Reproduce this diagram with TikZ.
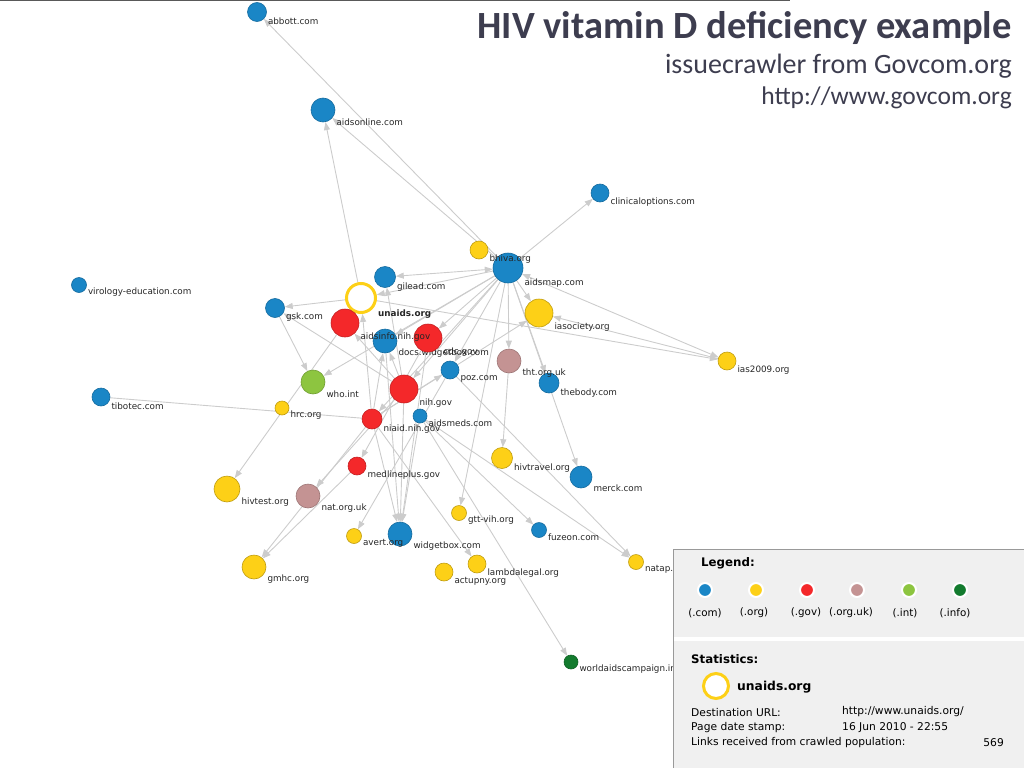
\documentclass[tikz,border=0pt]{standalone}
\usepackage{fontspec}
\setmainfont{DejaVu Sans}
\newfontfamily\slidefont{Carlito}
\usetikzlibrary{arrows.meta}
\pgfdeclarelayer{bg}
\pgfsetlayers{bg,main}

\definecolor{ccom}{HTML}{1A86C6}
\definecolor{corg}{HTML}{FDD017}
\definecolor{cgov}{HTML}{F4282A}
\definecolor{corguk}{HTML}{C49393}
\definecolor{cint}{HTML}{8DC540}
\definecolor{cinfo}{HTML}{137B2E}
\definecolor{cedge}{HTML}{CCCCCC}
\definecolor{ctitle}{HTML}{3D3D4F}
\definecolor{cbox}{HTML}{F0F0F0}

\tikzset{
  site/.style={circle, inner sep=0pt, line width=0.6pt},
  com/.style={site, fill=ccom, draw=ccom!80!black},
  org/.style={site, fill=corg, draw=corg!75!black},
  gov/.style={site, fill=cgov, draw=cgov!80!black},
  orguk/.style={site, fill=corguk, draw=corguk!80!black},
  int/.style={site, fill=cint, draw=cint!80!black},
  info/.style={site, fill=cinfo, draw=cinfo!80!black},
  ring/.style={circle, inner sep=0pt, fill=white, draw=corg, line width=3pt},
  lbl/.style={font=\fontsize{8.8}{10}\selectfont, text=black!85, inner sep=0pt, xshift=1pt},
  link/.style={draw=cedge, line width=0.9pt},
  arr/.style={link, -{Triangle[length=8pt,width=6pt]}},
  both/.style={link, {Triangle[length=8pt,width=6pt]}-{Triangle[length=8pt,width=6pt]}},
  keydot/.style={circle, inner sep=0pt, minimum size=14pt, draw=white, line width=2pt},
  keytxt/.style={font=\fontsize{10.3}{12}\selectfont, inner sep=0pt},
  boxhead/.style={font=\bfseries\fontsize{11.8}{14}\selectfont, inner sep=0pt, anchor=west},
  stattxt/.style={font=\fontsize{10.7}{13}\selectfont, inner sep=0pt, anchor=west},
}

\begin{document}
\begin{tikzpicture}[x=1pt, y=-1pt]
\useasboundingbox (0,0) rectangle (1024,768);
\draw[black!65, line width=1.5pt] (0,0.75) -- (790,0.75);

%% sites
\node[com, minimum size=19pt, label={[lbl, yshift=-9.5pt]east:abbott.com}] (abbott) at (257,12) {};
\node[com, minimum size=24pt, label={[lbl, yshift=-12pt]east:aidsonline.com}] (aidsonline) at (323,110) {};
\node[com, minimum size=18pt, label={[lbl, yshift=-9pt]east:clinicaloptions.com}] (clinical) at (600,193) {};
\node[com, minimum size=30pt, label={[lbl, yshift=-15pt]east:aidsmap.com}] (aidsmap) at (508,268) {};
\node[org, minimum size=18pt, label={[lbl, yshift=-9pt]east:bhiva.org}] (bhiva) at (479,250) {};
\node[com, minimum size=15pt, label={[lbl, yshift=-7.5pt]east:virology-education.com}] (virology) at (79,285) {};
\node[com, minimum size=21pt, label={[lbl, yshift=-10.5pt]east:gilead.com}] (gilead) at (385,277) {};
\node[ring, minimum size=29pt, label={[lbl, font=\bfseries\fontsize{8.8}{10}\selectfont, yshift=-16pt]east:unaids.org}] (unaids) at (361,298) {};
\node[com, minimum size=19pt, label={[lbl, yshift=-9.5pt]east:gsk.com}] (gsk) at (275,308) {};
\node[org, minimum size=28pt, label={[lbl, yshift=-14pt]east:iasociety.org}] (iasoc) at (539,313) {};
\node[com, minimum size=24pt, label={[lbl, yshift=-12pt]east:docs.widgetbox.com}] (docs) at (385,341) {};
\node[gov, minimum size=28pt, label={[lbl, yshift=-14pt]east:cdc.gov}] (cdc) at (428,338) {};
\node[gov, minimum size=28pt, label={[lbl, yshift=-14pt]east:aidsinfo.nih.gov}] (aidsinfo) at (345,323) {};
\node[com, minimum size=20pt, label={[lbl, yshift=-10pt]east:thebody.com}] (thebody) at (549,383) {};
\node[orguk, minimum size=24pt, label={[lbl, yshift=-12pt]east:tht.org.uk}] (tht) at (509,361) {};
\node[com, minimum size=18pt, label={[lbl, yshift=-9pt]east:poz.com}] (poz) at (450,370) {};
\node[org, minimum size=18pt, label={[lbl, yshift=-9pt]east:ias2009.org}] (ias09) at (727,361) {};
\node[int, minimum size=24pt, label={[lbl, yshift=-12pt]east:who.int}] (who) at (313,382) {};
\node[gov, minimum size=28pt, label={[lbl, yshift=-14pt]east:nih.gov}] (nih) at (404,389) {};
\node[com, minimum size=18pt, label={[lbl, yshift=-9pt]east:tibotec.com}] (tibotec) at (101,397) {};
\node[org, minimum size=14pt, label={[lbl, yshift=-7pt]east:hrc.org}] (hrc) at (282,408) {};
\node[com, minimum size=14pt, label={[lbl, yshift=-7pt]east:aidsmeds.com}] (aidsmeds) at (420,416) {};
\node[gov, minimum size=20pt, label={[lbl, yshift=-10pt]east:niaid.nih.gov}] (niaid) at (372,419) {};
\node[org, minimum size=21pt, label={[lbl, yshift=-10.5pt]east:hivtravel.org}] (hivtravel) at (502,458) {};
\node[com, minimum size=22pt, label={[lbl, yshift=-11pt]east:merck.com}] (merck) at (581,477) {};
\node[gov, minimum size=18pt, label={[lbl, yshift=-9pt]east:medlineplus.gov}] (medline) at (357,466) {};
\node[org, minimum size=26pt, label={[lbl, yshift=-13pt]east:hivtest.org}] (hivtest) at (227,489) {};
\node[orguk, minimum size=24pt, label={[lbl, yshift=-12pt]east:nat.org.uk}] (natuk) at (308,496) {};
\node[org, minimum size=15pt, label={[lbl, yshift=-7.5pt]east:gtt-vih.org}] (gtt) at (459,513) {};
\node[com, minimum size=15pt, label={[lbl, yshift=-7.5pt]east:fuzeon.com}] (fuzeon) at (539,530) {};
\node[com, minimum size=24pt, label={[lbl, yshift=-12pt]east:widgetbox.com}] (widget) at (400,534) {};
\node[org, minimum size=15pt, label={[lbl, yshift=-7.5pt]east:avert.org}] (avert) at (354,536) {};
\node[org, minimum size=15pt, label={[lbl, yshift=-7.5pt]east:natap.org}] (natap) at (636,562) {};
\node[org, minimum size=18pt, label={[lbl, yshift=-9pt]east:lambdalegal.org}] (lambda) at (477,564) {};
\node[org, minimum size=18pt, label={[lbl, yshift=-9pt]east:actupny.org}] (actup) at (444,572) {};
\node[org, minimum size=24pt, label={[lbl, yshift=-12pt]east:gmhc.org}] (gmhc) at (254,567) {};
\node[info, minimum size=14pt, label={[lbl, yshift=-7pt]east:worldaidscampaign.info}] (worldaids) at (571,662) {};

%% links
\begin{pgfonlayer}{bg}
\foreach \a/\b in {aidsmap/abbott, aidsmap/aidsonline, unaids/aidsonline, aidsmap/clinical,
    aidsmap/unaids, unaids/gsk, aidsmap/iasoc, unaids/ias09, ias09/iasoc, aidsmap/tht,
    aidsmap/thebody, aidsmap/poz, aidsmap/nih, aidsmap/niaid, aidsmap/docs, aidsmap/cdc,
    aidsmap/who, aidsmap/gtt, aidsmap/merck, tht/hivtravel, gsk/who, nih/gsk, nih/gilead,
    nih/docs, niaid/docs, nih/aidsinfo, niaid/unaids, niaid/iasoc, niaid/poz,
    aidsinfo/hivtest, nih/natuk, niaid/gmhc, medline/gmhc, cdc/medline, poz/avert,
    nih/widget, niaid/widget, aidsmeds/widget, docs/widget, cdc/widget, aidsmeds/fuzeon,
    aidsmeds/natap, poz/natap, niaid/lambda, aidsmeds/worldaids}
  \draw[arr] (\a) -- (\b);
\draw[both] (gilead) -- (aidsmap);
\draw[both] (aidsmap) -- (ias09);
\draw[link] (niaid) -- (tibotec);
\end{pgfonlayer}

%% legend and statistics box
\fill[cbox] (673,549) rectangle (1024,768);
\fill[white] (674,637) rectangle (1024,641);
\draw[black!40, line width=1pt] (1024,549) -- (673,549) -- (673,768);
\node[boxhead] (legend) at (701,563) {Legend:};
\foreach \x/\c/\n in {705/ccom/com, 756/corg/org, 807/cgov/gov, 857/corguk/orguk, 909/cint/int, 960/cinfo/info}
  \node[keydot, fill=\c] (key\n) at (\x,590) {};
\node[keytxt] (keycomtxt) at (705,613) {(.com)};
\node[keytxt] (keyorgtxt) at (754,613) {(.org)};
\node[keytxt] (keygovtxt) at (806,613) {(.gov)};
\node[keytxt] (keyorguktxt) at (851,613) {(.org.uk)};
\node[keytxt] (keyinttxt) at (905,613) {(.int)};
\node[keytxt] (keyinfotxt) at (955,613) {(.info)};

\node[boxhead] (stats) at (691,659) {Statistics:};
\node[ring, minimum size=25pt] (statring) at (716,686) {};
\node[stattxt, font=\bfseries\fontsize{12.3}{14}\selectfont] (statname) at (737,687) {unaids.org};
\node[stattxt] (urlkey) at (691,712) {Destination URL:};
\node[stattxt] (urlval) at (842,712) {http://www.unaids.org/};
\node[stattxt] (datekey) at (691,728) {Page date stamp:};
\node[stattxt] (dateval) at (842,728) {16 Jun 2010 - 22:55};
\node[stattxt] (linkkey) at (691,743) {Links received from crawled population:};
\node[stattxt, anchor=east] (linkval) at (1004,743) {569};

%% title
\node[anchor=base east, inner sep=0pt, text=ctitle, font=\slidefont\bfseries\fontsize{38.5}{44}\selectfont] (title) at (1012,38) {HIV vitamin D deficiency example};
\node[anchor=base east, inner sep=0pt, text=ctitle, font=\slidefont\fontsize{28}{32}\selectfont] (sub) at (1012,73) {issuecrawler from Govcom.org};
\node[anchor=base east, inner sep=0pt, text=ctitle, font=\slidefont\fontsize{25.5}{30}\selectfont] (url) at (1012,104) {http://www.govcom.org};
\end{tikzpicture}
\end{document}
